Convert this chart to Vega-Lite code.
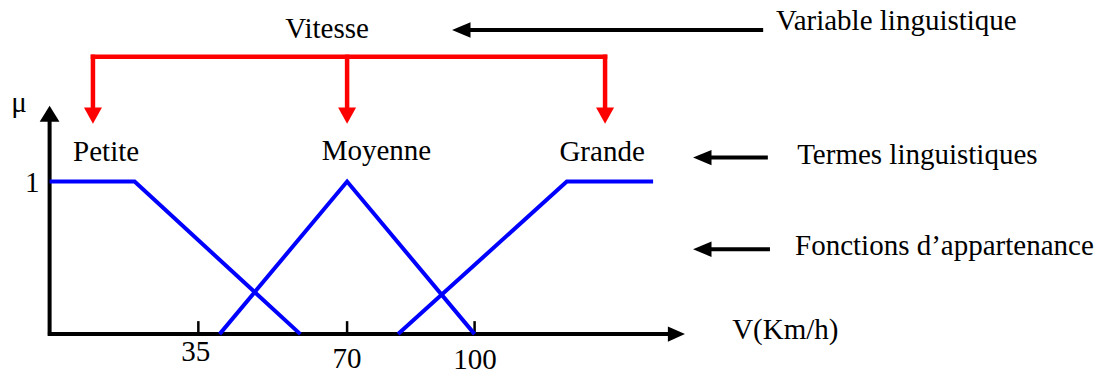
{
  "$schema": "https://vega.github.io/schema/vega-lite/v6.json",
  "width": 1114,
  "height": 376,
  "autosize": {"type": "fit", "contains": "padding"},
  "padding": 0,
  "background": "white",
  "config": {"view": {"stroke": null}},
  "datasets": {
    "fonctions": [
      {"terme": "Petite", "i": 0, "v": 0, "mu": 1},
      {"terme": "Petite", "i": 1, "v": 20, "mu": 1},
      {"terme": "Petite", "i": 2, "v": 59, "mu": 0},
      {"terme": "Moyenne", "i": 0, "v": 40, "mu": 0},
      {"terme": "Moyenne", "i": 1, "v": 70, "mu": 1},
      {"terme": "Moyenne", "i": 2, "v": 100, "mu": 0},
      {"terme": "Grande", "i": 0, "v": 82, "mu": 0},
      {"terme": "Grande", "i": 1, "v": 121.7, "mu": 1},
      {"terme": "Grande", "i": 2, "v": 142, "mu": 1}
    ],
    "axes": [
      {"x": 0, "x2": 0, "y": -0.01, "y2": 1.4},
      {"x": -0.4, "x2": 145.7, "y": 0, "y2": 0}
    ],
    "graduations": [
      {"x": 35, "x2": 35, "y": 0, "y2": 0.085},
      {"x": 70, "x2": 70, "y": 0, "y2": 0.085},
      {"x": 100, "x2": 100, "y": 0, "y2": 0.085}
    ],
    "fleches": [
      {"x": 98.9, "x2": 167.9, "y": 1.993, "y2": 1.993},
      {"x": 155.6, "x2": 169.0, "y": 1.157, "y2": 1.157},
      {"x": 155.6, "x2": 169.5, "y": 0.556, "y2": 0.556}
    ],
    "rouge": [
      {"x": 10.2, "x2": 130.7, "y": 1.817, "y2": 1.817},
      {"x": 10.2, "x2": 10.2, "y": 1.817, "y2": 1.47},
      {"x": 70, "x2": 70, "y": 1.817, "y2": 1.47},
      {"x": 130.7, "x2": 130.7, "y": 1.817, "y2": 1.47}
    ],
    "pointes_noires": [
      {"x": 0, "y": 1.497, "dir": "haut"},
      {"x": 149.5, "y": 0, "dir": "droite"},
      {"x": 94.7, "y": 1.993, "dir": "gauche"},
      {"x": 151.4, "y": 1.157, "dir": "gauche"},
      {"x": 151.4, "y": 0.556, "dir": "gauche"}
    ],
    "pointes_rouges": [
      {"x": 10.2, "y": 1.379, "dir": "bas"},
      {"x": 70, "y": 1.379, "dir": "bas"},
      {"x": 130.7, "y": 1.379, "dir": "bas"}
    ],
    "textes_centres": [
      {"x": 65.3, "y": 1.941, "t": "Vitesse"},
      {"x": -7.2, "y": 1.458, "t": "μ"},
      {"x": 13.3, "y": 1.137, "t": "Petite"},
      {"x": 76.9, "y": 1.144, "t": "Moyenne"},
      {"x": 130.0, "y": 1.137, "t": "Grande"},
      {"x": 34.4, "y": -0.176, "t": "35"},
      {"x": 70, "y": -0.222, "t": "70"},
      {"x": 100.1, "y": -0.229, "t": "100"},
      {"x": -4.1, "y": 0.928, "t": "1"}
    ],
    "textes_gauche": [
      {"x": 170.9, "y": 1.993, "t": "Variable linguistique"},
      {"x": 175.9, "y": 1.118, "t": "Termes linguistiques"},
      {"x": 175.4, "y": 0.516, "t": "Fonctions d’appartenance"},
      {"x": 160.6, "y": -0.033, "t": "V(Km/h)"}
    ]
  },
  "layer": [
    {
      "data": {"name": "axes"},
      "mark": {"type": "rule", "color": "black", "strokeWidth": 4},
      "encoding": {
        "x": {"field": "x", "type": "quantitative", "scale": {"domain": [-11.67, 250.45], "nice": false, "zero": false}, "axis": null},
        "x2": {"field": "x2"},
        "y": {"field": "y", "type": "quantitative", "scale": {"domain": [-0.268, 2.1895], "nice": false, "zero": false}, "axis": null},
        "y2": {"field": "y2"}
      }
    },
    {
      "data": {"name": "graduations"},
      "mark": {"type": "rule", "color": "black", "strokeWidth": 2.5},
      "encoding": {
        "x": {"field": "x", "type": "quantitative"},
        "x2": {"field": "x2"},
        "y": {"field": "y", "type": "quantitative"},
        "y2": {"field": "y2"}
      }
    },
    {
      "data": {"name": "fleches"},
      "mark": {"type": "rule", "color": "black", "strokeWidth": 4},
      "encoding": {
        "x": {"field": "x", "type": "quantitative"},
        "x2": {"field": "x2"},
        "y": {"field": "y", "type": "quantitative"},
        "y2": {"field": "y2"}
      }
    },
    {
      "data": {"name": "rouge"},
      "mark": {"type": "rule", "color": "#FF0000", "strokeWidth": 4.5, "strokeCap": "square"},
      "encoding": {
        "x": {"field": "x", "type": "quantitative"},
        "x2": {"field": "x2"},
        "y": {"field": "y", "type": "quantitative"},
        "y2": {"field": "y2"}
      }
    },
    {
      "data": {"name": "fonctions"},
      "mark": {"type": "line", "color": "#0000FF", "strokeWidth": 4, "strokeJoin": "miter"},
      "encoding": {
        "x": {"field": "v", "type": "quantitative"},
        "y": {"field": "mu", "type": "quantitative"},
        "detail": {"field": "terme"},
        "order": {"field": "i"}
      }
    },
    {
      "data": {"name": "pointes_noires"},
      "mark": {"type": "point", "filled": true, "color": "black", "opacity": 1, "size": 324, "strokeWidth": 0},
      "encoding": {
        "x": {"field": "x", "type": "quantitative"},
        "y": {"field": "y", "type": "quantitative"},
        "shape": {
          "field": "dir", "type": "nominal", "legend": null,
          "scale": {
            "domain": ["haut", "droite", "gauche", "bas"],
            "range": ["M0,0L1.1,1.8L-1.1,1.8Z", "M0,0L-1.9,-0.85L-1.9,0.85Z", "M0,0L2.05,-0.85L2.05,0.85Z", "M0,0L-1,-1.8L1,-1.8Z"]
          }
        }
      }
    },
    {
      "data": {"name": "pointes_rouges"},
      "mark": {"type": "point", "filled": true, "color": "#FF0000", "opacity": 1, "size": 324, "strokeWidth": 0},
      "encoding": {
        "x": {"field": "x", "type": "quantitative"},
        "y": {"field": "y", "type": "quantitative"},
        "shape": {"field": "dir", "type": "nominal", "legend": null}
      }
    },
    {
      "data": {"name": "textes_centres"},
      "mark": {"type": "text", "font": "Liberation Serif", "fontSize": 29, "color": "black", "align": "center", "baseline": "alphabetic"},
      "encoding": {
        "x": {"field": "x", "type": "quantitative"},
        "y": {"field": "y", "type": "quantitative"},
        "text": {"field": "t"}
      }
    },
    {
      "data": {"name": "textes_gauche"},
      "mark": {"type": "text", "font": "Liberation Serif", "fontSize": 29, "color": "black", "align": "left", "baseline": "alphabetic"},
      "encoding": {
        "x": {"field": "x", "type": "quantitative"},
        "y": {"field": "y", "type": "quantitative"},
        "text": {"field": "t"}
      }
    }
  ]
}
